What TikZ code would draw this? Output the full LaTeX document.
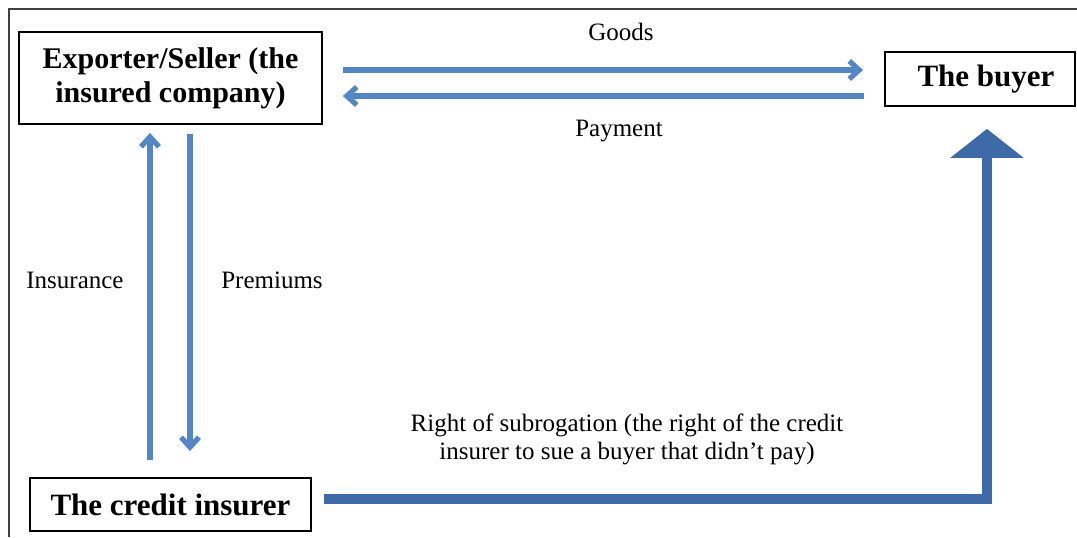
\documentclass[tikz,border=0pt]{standalone}
\usepackage{fontspec}
\setmainfont{Liberation Serif}
\usetikzlibrary{
  positioning,
  arrows.meta
}

\definecolor{flowBlue}{RGB}{84,133,196}
\definecolor{subroBlue}{RGB}{62,107,168}

\begin{document}
\begin{tikzpicture}[
    x=0.5pt,y=-0.5pt,
    partyNode/.style={draw,line width=0.9pt,align=center,inner sep=0pt,
      font=\bfseries\fontsize{15.5}{17}\selectfont},
    flow/.style={draw=flowBlue,line width=2.6pt,-{Straight Barb[length=5pt,width=9pt]}},
    flowLabel/.style={font=\fontsize{12.5}{14}\selectfont,align=center},
  ]
    \useasboundingbox (0,0) rectangle (1077,537);
    % frame
    \draw[line width=0.8pt,black!75] (1077,9) -- (9,9) -- (9,537);

    % parties
    \node[partyNode,minimum width=151.5pt,minimum height=46pt,
      font=\bfseries\fontsize{15}{17}\selectfont] (exporter) at (170.5,78)
      {Exporter/Seller (the\\insured company)};
    \node[partyNode,minimum width=95pt,minimum height=27pt] (buyer) at (980,79) {\hspace{6pt}The buyer};
    \node[partyNode,minimum width=140.5pt,minimum height=26.5pt] (insurer) at (170.5,504.5) {The credit insurer};

    % goods and payment
    \draw[flow,shorten <=10pt,shorten >=10.5pt] ([yshift=4pt]exporter.east) -- ([yshift=4pt]exporter.east -| buyer.west);
    \draw[flow,shorten <=10pt,shorten >=10pt] ([yshift=-9pt]exporter.east -| buyer.west) -- ([yshift=-9pt]exporter.east);
    \node[flowLabel] (goods) at (621,32) {Goods};
    \node[flowLabel] (payment) at (619,131) {Payment};

    % insurance and premiums
    \draw[flow,shorten <=8.5pt,shorten >=4pt] ([xshift=-10.25pt]insurer.north) -- ([xshift=-10.25pt]exporter.south);
    \draw[flow,shorten <=4.5pt,shorten >=13pt] ([xshift=9.75pt]exporter.south) -- ([xshift=9.75pt]insurer.north);
    \node[flowLabel] (insurance) at (75,280) {Insurance};
    \node[flowLabel] (premiums) at (272,280) {Premiums};

    % subrogation
    \draw[draw=subroBlue,line width=5pt,shorten <=6pt,shorten >=11pt,
      -{Triangle[width=36pt,length=14.5pt,fill=subroBlue]}]
      ([yshift=2.75pt]insurer.east) -| ([xshift=3.5pt]buyer.south);
    \node[flowLabel] (subrogation) at (627,439)
      {Right of subrogation (the right of the credit\\insurer to sue a buyer that didn't pay)};
\end{tikzpicture}
\end{document}
